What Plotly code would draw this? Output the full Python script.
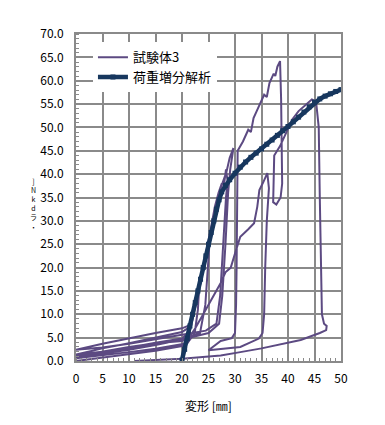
import plotly.graph_objects as go

# ---- data ----
test_x = [0, 5, 10, 15, 20, 21.2, 22, 22.8, 23.3, 23.0, 22.4, 21, 15, 10, 5, 0,
          5, 10, 15, 20, 21.4, 22.6, 23.8, 24.6, 25.3, 25.0, 24.4, 23.4, 20, 15, 10, 5, 0,
          5, 10, 15, 20, 21.6, 23.0, 24.4, 25.4, 26.2, 26.9, 27.5, 27.2, 27.9, 28.3, 28.6, 28.3, 27.8, 27.2, 26.5, 24.5, 20, 15, 10, 5, 0,
          5, 10, 15, 20, 21.7, 23.2, 24.6, 25.6, 26.6, 27.6, 28.4, 29.0, 29.7, 29.1, 28.7, 28.2, 27.6, 27, 25, 20, 15, 10, 5, 0,
          5, 10, 15, 20, 21.2, 22.5, 24, 25.5, 27.3, 28.2, 29.2, 30, 31, 32.5, 33.6, 34.2, 34.6, 35.3, 36.1, 36.4, 36.0, 35.7, 35.5, 35.2, 34.5, 31, 28, 25,
          27.3, 29.4, 30.0, 30.2, 30.3, 30.4, 30.5, 30.5, 31.5, 32.5, 33, 33.5, 34.5, 35.5, 36, 36.5, 37.3, 37.6, 38, 38.5, 38.7, 38.8, 38.9, 38.6, 37.8, 37.2,
          37.3, 37.4, 38.5, 39.9, 40.8, 42, 43.5, 44.5, 45.3, 45.8, 46.0, 46.2, 46.4, 46.8, 47.3, 47.2, 46, 42.4, 38, 35, 31, 27.3, 20, 15, 11]
test_y = [0, 0.7, 1.4, 2.2, 3.2, 5, 9, 14, 17, 11, 6, 3.8, 2.6, 1.9, 1.2, 0.6,
          1.8, 2.9, 3.9, 4.8, 6.2, 12, 19, 24, 27.5, 22, 12, 6, 4.5, 3.6, 2.8, 2.0, 1.4,
          2.7, 3.8, 5.0, 6.2, 7.4, 14, 22, 28, 33, 36, 38, 34.5, 37.5, 41, 38.5, 35, 26, 14, 8, 6.5, 5.6, 4.6, 3.7, 2.9, 2.4,
          3.7, 4.9, 6.0, 7.0, 7.8, 15, 23, 29, 34.5, 38, 40.5, 43.5, 45.6, 41, 36, 25, 14, 8, 6, 4.6, 3.4, 2.4, 1.6, 1.0,
          2.0, 3.0, 3.8, 4.3, 4.8, 7, 10, 13, 16.7, 19, 20, 23, 26.6, 28.2, 29.5, 33, 36.6, 38.2, 40.2, 37, 30, 20, 10, 6, 4.8, 3.0, 2.6, 2.3,
          4.3, 4.9, 6, 12, 20, 30, 38, 45, 47, 49.5, 49, 52, 54.5, 57, 56.5, 59.5, 61.5, 61, 63, 64.2, 56, 46, 38, 35, 33.5, 34,
          38, 44, 46, 49.5, 51.7, 53.5, 55, 56, 55.5, 50, 35, 20, 10, 8, 7.5, 6.6, 6, 4.5, 3.4, 2.7, 1.9, 1.2, 0.5, 0.2, 0]

fea_x = [20.0, 20.5, 21.0, 21.5, 22.0, 22.5, 23.0, 23.5, 24.0, 24.5, 25.0, 25.5, 26.0, 26.5, 27.0, 27.5,
         28.2, 29.0, 30.0, 31.0, 32.0, 33.0, 34.0, 35.0, 36.0, 37.0, 38.0, 39.0, 40.0, 41.0, 42.0, 43.0,
         44.0, 45.0, 46.0, 47.0, 48.0, 49.0, 50.0]
fea_y = [0.2, 2.5, 4.8, 7.5, 10.0, 12.5, 15.0, 17.5, 20.0, 22.5, 25.0, 27.5, 30.0, 32.5, 34.5, 36.2,
         37.6, 38.8, 40.2, 41.5, 42.6, 43.6, 44.5, 45.4, 46.4, 47.3, 48.3, 49.3, 50.2, 51.2, 52.2, 53.3,
         54.4, 55.4, 56.1, 56.7, 57.2, 57.7, 58.1]

x_ticks = [0, 5, 10, 15, 20, 25, 30, 35, 40, 45, 50]
y_ticks = [0, 5, 10, 15, 20, 25, 30, 35, 40, 45, 50, 55, 60, 65, 70]

series_names = ["試験体3", "荷重増分解析"]
x_title = "変形 [㎜]"
y_title_chars = ["]", "N", "k", "d", "ラ", "・"]

FONT = "Noto Sans CJK JP"
GRID = "#8a8a8a"

fig = go.Figure()
fig.add_trace(go.Scatter(x=test_x, y=test_y, mode="lines", name=series_names[0],
                         line=dict(color="#5c4a82", width=2)))
fig.add_trace(go.Scatter(x=fea_x, y=fea_y, mode="lines+markers", name=series_names[1],
                         line=dict(color="#17375e", width=4.5),
                         marker=dict(symbol="square", size=5, color="#17375e")))

axis_common = dict(showgrid=True, gridcolor=GRID, gridwidth=2, showline=True, mirror=True,
                   linecolor=GRID, linewidth=2, zeroline=False, ticks="",
                   tickfont=dict(family=FONT, size=12, color="#000"),
                   minor=dict(ticks="inside", dtick=1, ticklen=3, tickcolor=GRID, tickwidth=1, showgrid=False))

fig.update_xaxes(range=[0, 50], tickvals=x_ticks, ticktext=[str(v) for v in x_ticks],
                 ticklabelstandoff=6, automargin=False, **axis_common)
fig.update_yaxes(range=[0, 70], tickvals=y_ticks, ticktext=[f"{v:.1f}" for v in y_ticks],
                 ticklabelstandoff=8, automargin=False, **axis_common)

fig.add_annotation(text=x_title, xref="paper", yref="paper", x=0.5, y=-0.135,
                   showarrow=False, font=dict(family=FONT, size=12, color="#000"),
                   xanchor="center", yanchor="middle")
fig.add_annotation(text="<br>".join(y_title_chars), xref="paper", yref="paper",
                   x=-0.162, y=0.48, showarrow=False,
                   font=dict(family=FONT, size=7, color="#000"),
                   xanchor="center", yanchor="middle")

# page body adds an 8px offset, so the figure is 8px smaller and margins shifted
fig.update_layout(
    width=377, height=417,
    margin=dict(l=68, r=44, t=26, b=64),
    paper_bgcolor="white", plot_bgcolor="white",
    font=dict(family=FONT, size=12, color="#000"),
    showlegend=True,
    legend=dict(x=0.064, y=0.975, xanchor="left", yanchor="top",
                bgcolor="white", borderwidth=0,
                font=dict(family=FONT, size=13, color="#000"),
                tracegroupgap=0, itemwidth=30),
)

fig.write_html("out.html")
